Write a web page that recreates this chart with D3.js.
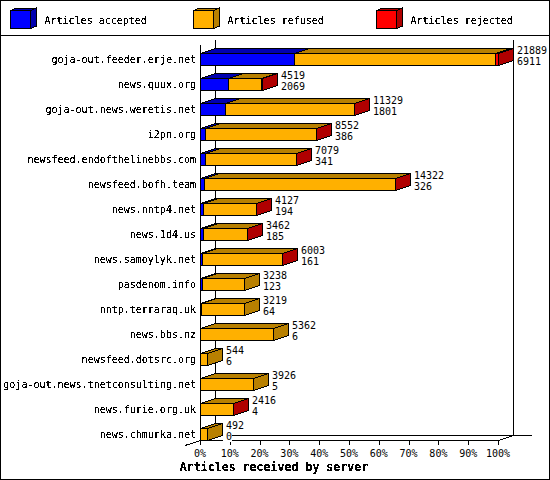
<!DOCTYPE html>
<html>
<head>
<meta charset="utf-8">
<script src="https://cdn.jsdelivr.net/npm/d3@7"></script>
<style>
  body { margin: 0; background: #fff; }
  svg { display: block; }
  text { font-family: "DejaVu Sans Mono", monospace; font-size: 10px; fill: #000; }
  path, rect, line { shape-rendering: crispEdges; }
  .labels { filter: url(#crisp); }
</style>
</head>
<body>
<svg id="chart" width="550" height="480">
  <defs>
    <!-- hard alpha cutoff so the names look like the bitmap font of the original -->
    <filter id="crisp" filterUnits="userSpaceOnUse" x="0" y="0" width="550" height="480" color-interpolation-filters="sRGB">
      <feComponentTransfer>
        <feFuncA type="discrete" tableValues="0 0 1 1 1"></feFuncA>
      </feComponentTransfer>
    </filter>
  </defs>
</svg>
<script>
// Data
const servers = ["goja-out.feeder.erje.net", "news.quux.org", "goja-out.news.weretis.net", "i2pn.org",
  "newsfeed.endofthelinebbs.com", "newsfeed.bofh.team", "news.nntp4.net", "news.1d4.us", "news.samoylyk.net",
  "pasdenom.info", "nntp.terraraq.uk", "news.bbs.nz", "newsfeed.dotsrc.org", "goja-out.news.tnetconsulting.net",
  "news.furie.org.uk", "news.chmurka.net"];
const totals = [21889, 4519, 11329, 8552, 7079, 14322, 4127, 3462, 6003, 3238, 3219, 5362, 544, 3926, 2416, 492];
const accepted = [6911, 2069, 1801, 386, 341, 326, 194, 185, 161, 123, 64, 6, 6, 5, 4, 0];
const rejected = [220, 15, 20, 15, 15, 15, 15, 15, 15, 0, 0, 0, 0, 0, 10, 0];
const refused = totals.map((t, i) => t - accepted[i] - rejected[i]);
const tickValues = [0, 10, 20, 30, 40, 50, 60, 70, 80, 90, 100];

const seriesNames = ["Articles accepted", "Articles refused", "Articles rejected"];
const seriesValues = [accepted, refused, rejected];
const frontColors = ["#0000ff", "#ffb000", "#ff0000"];
const darkColors = ["#0000b0", "#b88000", "#b00000"];
const legendX = [10.5, 193.5, 376.5];

const svg = d3.select("#chart");
const maxTotal = d3.max(totals);

const x = d3.scaleLinear().domain([0, 100]).range([200, 498]);
const y = d3.scalePoint().domain(servers).range([59, 434]);

const barH = 12;   // front face height
const dx = 15, dy = 5;   // depth of the 3d effect

function line(x1, y1, x2, y2) {
  svg.append("line").attr("x1", x1).attr("y1", y1).attr("x2", x2).attr("y2", y2)
    .attr("stroke", "#000").attr("stroke-width", 1);
}

// Draw one box: front, top and optional right side
function box(g, x0, x1, top, h, ddx, ddy, front, dark, withSide) {
  g.append("path")
    .attr("d", `M${x0},${top}L${x0 + ddx},${top - ddy}L${x1 + ddx},${top - ddy}L${x1},${top}Z`)
    .attr("fill", dark).attr("stroke", "#000");
  if (withSide) {
    g.append("path")
      .attr("d", `M${x1},${top}L${x1 + ddx},${top - ddy}L${x1 + ddx},${top + h - ddy}L${x1},${top + h}Z`)
      .attr("fill", dark).attr("stroke", "#000");
  }
  g.append("rect").attr("x", x0).attr("y", top).attr("width", x1 - x0).attr("height", h)
    .attr("fill", front).attr("stroke", "#000");
}

// Frame and legend
svg.append("rect").attr("x", 0.5).attr("y", 0.5).attr("width", 549).attr("height", 479)
  .attr("fill", "#fff").attr("stroke", "#000");
line(0, 35.5, 550, 35.5);

seriesNames.forEach((name, i) => {
  box(svg.append("g"), legendX[i], legendX[i] + 20, 10.5, 18, 6, 2.5, frontColors[i], darkColors[i], true);
});

// Back walls and floor
line(215.5, 40, 215.5, 435);
line(513.5, 40, 513.5, 435);
line(215, 435.5, 532, 435.5);
line(200.5, 45, 200.5, 440);
line(185, 445.5, 200.5, 440.5);
line(498.5, 440.5, 513.5, 435.5);

// Front axis
const axis = d3.axisBottom(x).tickValues(tickValues).tickFormat(d => d + "%").tickSize(5).tickSizeOuter(0);
const axisG = svg.append("g").attr("transform", "translate(0,440)").call(axis);
axisG.selectAll("text").remove();
axisG.selectAll("line,path").attr("stroke", "#000");

// Stacked bars
const boxes = svg.append("g");
const whites = svg.append("g");
const labels = svg.append("g").attr("class", "labels");
const numbers = svg.append("g");   // digits stay smooth, the cutoff fills them in

seriesNames.forEach((name, i) => {
  labels.append("text").attr("x", legendX[i] + 34).attr("y", 23.5).text(name);
});

tickValues.forEach(t => {
  numbers.append("text").attr("x", x(t)).attr("y", 457).attr("text-anchor", "middle").text(t + "%");
});

servers.forEach((name, i) => {
  const top = y(name) - 5.5;
  const g = boxes.append("g");
  let sum = 0;
  const last = rejected[i] > 0 ? 2 : 1;
  seriesValues.forEach((vals, s) => {
    const v = vals[i];
    if (v <= 0) return;
    const x0 = x(sum / maxTotal * 100);
    sum += v;
    const x1 = x(sum / maxTotal * 100);
    box(g, Math.round(x0) + 0.5, Math.round(x1) + 0.5, top, barH, dx, dy, frontColors[s], darkColors[s], s === last);
  });

  // value labels, white box hides the wall lines behind them
  const endX = Math.round(x(totals[i] / maxTotal * 100)) + dx + 4;
  [totals[i], accepted[i]].forEach((v, k) => {
    const cy = y(name) - 9 + k * 11;
    const str = String(v);
    whites.append("rect").attr("x", endX - 3).attr("y", cy - 5).attr("width", str.length * 6 + 3).attr("height", 11).attr("fill", "#fff");
    numbers.append("text").attr("x", endX).attr("y", cy + 3.5).text(str);
  });

  labels.append("text").attr("x", 196).attr("y", y(name) + 3.5).attr("text-anchor", "end").text(name);
});

// Axis title
labels.append("text").attr("x", 274).attr("y", 471).attr("text-anchor", "middle")
  .style("font-size", "11.6px").style("font-weight", "bold").text("Articles received by server");
</script>
</body>
</html>
